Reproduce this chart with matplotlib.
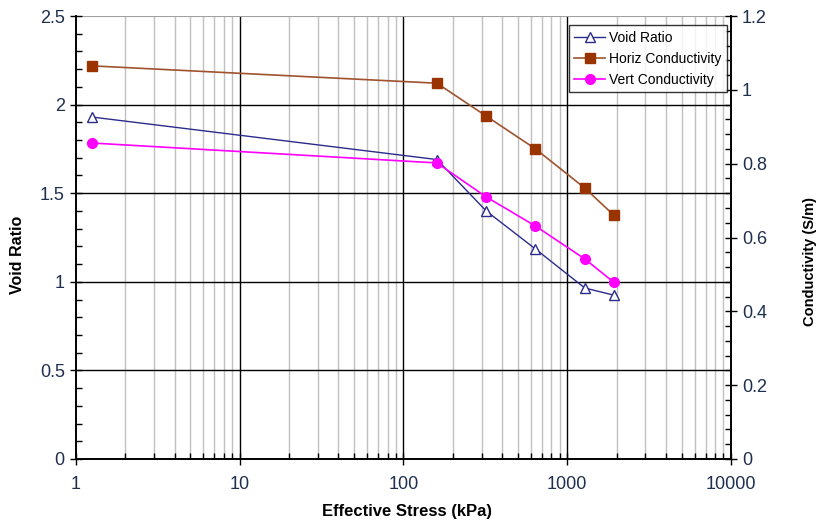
import numpy as np
import matplotlib
matplotlib.use("Agg")
import matplotlib.pyplot as plt
from matplotlib.ticker import MultipleLocator, LogLocator, NullFormatter, FixedLocator

# --- DATA ---
stress = [1.25, 160, 320, 640, 1280, 1920]
void_ratio = [1.93, 1.69, 1.40, 1.185, 0.965, 0.925]
horiz_cond = [1.065, 1.018, 0.929, 0.840, 0.734, 0.661]
vert_cond = [0.856, 0.802, 0.710, 0.631, 0.542, 0.479]

plt.rcParams['font.family'] = ['Liberation Sans', 'DejaVu Sans']

fig = plt.figure(figsize=(8.16, 5.22), dpi=100)
ax = fig.add_axes([0.0931, 0.1207, 0.8027, 0.8486])
ax2 = ax.twinx()

# --- GRID ---
ax.set_xscale('log')
ax.set_xlim(1, 10000)
ax.set_ylim(0, 2.5)
ax2.set_ylim(0, 1.2)

for x in [d * m for d in [1, 10, 100, 1000] for m in range(2, 10)]:
    ax.axvline(x, color='#c0c0c0', lw=1.0, zorder=0)
for x in [10, 100, 1000]:
    ax.axvline(x, color='black', lw=1.0, zorder=0)
for y in [0.5, 1.0, 1.5, 2.0]:
    ax.axhline(y, color='black', lw=1.0, zorder=0)
ax.axhline(2.5, color='#a0a0a0', lw=1.5, zorder=0)

# --- SERIES ---
l1, = ax.plot(stress, void_ratio, color='#2b2b8c', lw=1.0, marker='^',
              markerfacecolor='white', markeredgecolor='#2b2b8c', markersize=7,
              markeredgewidth=1.0, label='Void Ratio', zorder=3)
l2, = ax2.plot(stress, horiz_cond, color='#a0522d', lw=1.2, marker='s',
               markerfacecolor='#993300', markeredgecolor='#993300', markersize=7,
               label='Horiz Conductivity', zorder=3)
l3, = ax2.plot(stress, vert_cond, color='#ff00ff', lw=1.2, marker='o',
               markerfacecolor='#ff00ff', markeredgecolor='#ff00ff', markersize=7,
               label='Vert Conductivity', zorder=3)

# --- TICKS ---
ax.yaxis.set_major_locator(MultipleLocator(0.5))
ax.yaxis.set_minor_locator(MultipleLocator(0.1))
ax.yaxis.set_major_formatter(plt.FuncFormatter(lambda v, p: f'{v:g}'))
ax2.yaxis.set_major_locator(MultipleLocator(0.2))
ax2.yaxis.set_minor_locator(MultipleLocator(0.04))
ax2.yaxis.set_major_formatter(plt.FuncFormatter(lambda v, p: f'{v:g}'))
ax.xaxis.set_major_locator(FixedLocator([1, 10, 100, 1000, 10000]))
ax.xaxis.set_major_formatter(plt.FuncFormatter(lambda v, p: f'{v:g}'))
ax.xaxis.set_minor_locator(LogLocator(base=10, subs=range(2, 10)))
ax.xaxis.set_minor_formatter(NullFormatter())

ax.tick_params(axis='y', which='major', direction='inout', length=8, width=1,
               labelsize=13, colors='black', labelcolor='#1f2f4f', pad=4)
ax.tick_params(axis='y', which='minor', direction='in', length=4, width=1)
ax2.tick_params(axis='y', which='major', direction='inout', length=8, width=1,
                labelsize=13, labelcolor='#1f2f4f', pad=4)
ax2.tick_params(axis='y', which='minor', direction='in', length=4, width=1)
ax.tick_params(axis='x', which='major', direction='inout', length=8, width=1,
               labelsize=13, labelcolor='#1f2f4f', pad=8)
ax.tick_params(axis='x', which='minor', direction='in', length=4, width=1)

for a in (ax, ax2):
    a.spines['top'].set_visible(False)
    a.spines['left'].set_linewidth(1.2)
    a.spines['right'].set_linewidth(1.2)
    a.spines['bottom'].set_linewidth(1.2)

ax.set_xlabel('Effective Stress (kPa)', fontsize=12, fontweight='bold')
ax.set_ylabel('Void Ratio', fontsize=11.5, fontweight='bold')
ax2.set_ylabel('Conductivity (S/m)', fontsize=10.5, fontweight='bold')
ax.xaxis.set_label_coords(0.505, -0.101)
ax.yaxis.set_label_coords(-0.078, 0.46)
ax2.yaxis.set_label_coords(1.11, 0.445)

leg = ax2.legend(handles=[l1, l2, l3], loc='upper right',
                 bbox_to_anchor=(0.891, 0.952), bbox_transform=fig.transFigure,
                 fontsize=10, frameon=True, fancybox=False, handlelength=2.2,
                 borderpad=0.4, labelspacing=0.5, handletextpad=0.3,
                 borderaxespad=0)
leg.get_frame().set_edgecolor('black')
leg.get_frame().set_linewidth(1.0)

fig.savefig('out.png', dpi=100)
